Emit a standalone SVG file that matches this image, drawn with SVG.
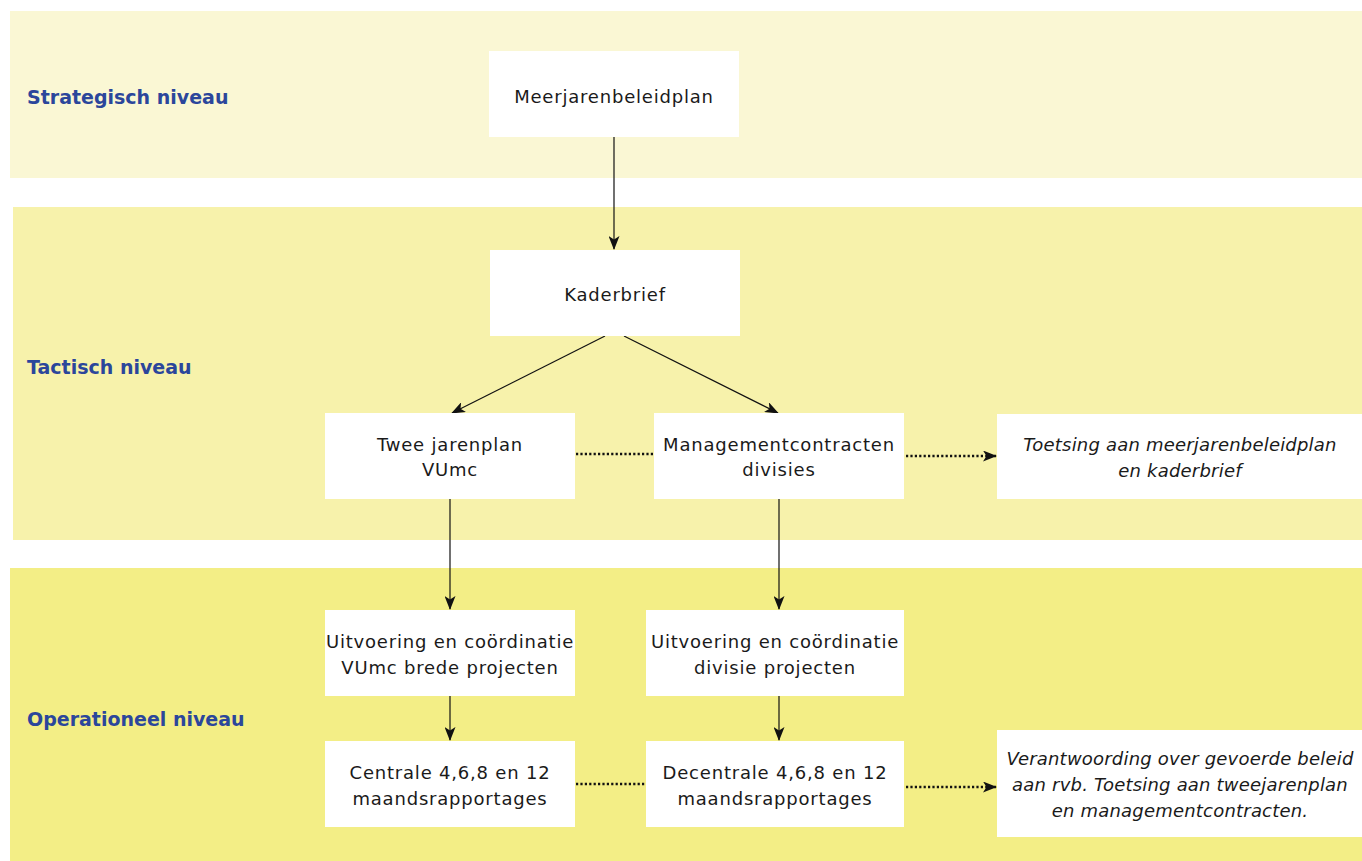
<svg xmlns="http://www.w3.org/2000/svg" width="1362" height="861" viewBox="0 0 1362 861">
<defs>
<style>
.band1{fill:#faf7d4}
.band2{fill:#f7f2ab}
.band3{fill:#f3ee86}
.box{fill:#ffffff}
.lvl{font-family:"DejaVu Sans","Liberation Sans",sans-serif;font-size:19px;font-weight:bold;fill:#2b469b}
.t{font-family:"DejaVu Sans","Liberation Sans",sans-serif;font-size:18px;fill:#1a1a1a;text-anchor:middle;letter-spacing:0.8px}
.it{font-style:italic;letter-spacing:0.2px}
.ln{stroke:#111;stroke-width:1.2;fill:none}
.dot{stroke:#111;stroke-width:2.6;fill:none;stroke-dasharray:2.2 2.2}
</style>
<marker id="ah" viewBox="0 0 14 11" refX="13" refY="5.5" markerWidth="14" markerHeight="11" markerUnits="userSpaceOnUse" orient="auto">
<path d="M0,0 L14,5.5 L0,11 L3.5,5.5 Z" fill="#111"/>
</marker>
</defs>

<g id="bands">
<rect class="band1" x="10" y="11" width="1352" height="167"/>
<rect class="band2" x="13" y="207" width="1349" height="333"/>
<rect class="band3" x="10" y="568" width="1352" height="293"/>
<text class="lvl" x="27" y="104">Strategisch niveau</text>
<text class="lvl" x="27" y="374">Tactisch niveau</text>
<text class="lvl" x="27" y="726">Operationeel niveau</text>
</g>

<g id="connectors">
<line class="ln" x1="614" y1="137" x2="614" y2="249" marker-end="url(#ah)"/>
<line class="ln" x1="605" y1="336" x2="452" y2="413" marker-end="url(#ah)"/>
<line class="ln" x1="624" y1="336" x2="778" y2="413" marker-end="url(#ah)"/>
<line class="dot" x1="576" y1="454" x2="654" y2="454"/>
<line class="dot" x1="906" y1="456" x2="996" y2="456" marker-end="url(#ah)"/>
<line class="ln" x1="450" y1="499" x2="450" y2="609" marker-end="url(#ah)"/>
<line class="ln" x1="779" y1="499" x2="779" y2="609" marker-end="url(#ah)"/>
<line class="ln" x1="450" y1="696" x2="450" y2="740" marker-end="url(#ah)"/>
<line class="ln" x1="779" y1="696" x2="779" y2="740" marker-end="url(#ah)"/>
<line class="dot" x1="576" y1="784" x2="646" y2="784"/>
<line class="dot" x1="906" y1="787" x2="996" y2="787" marker-end="url(#ah)"/>
</g>

<g id="meerjarenbeleidplan">
<rect class="box" x="489" y="51" width="250" height="86"/>
<text class="t" x="614" y="103">Meerjarenbeleidplan</text>
</g>

<g id="kaderbrief">
<rect class="box" x="490" y="250" width="250" height="86"/>
<text class="t" x="615" y="301">Kaderbrief</text>
</g>

<g id="tweejarenplan">
<rect class="box" x="325" y="413" width="250" height="86"/>
<text class="t" x="450" y="451">Twee jarenplan</text>
<text class="t" x="450" y="476">VUmc</text>
</g>

<g id="managementcontracten">
<rect class="box" x="654" y="413" width="250" height="86"/>
<text class="t" x="779" y="451">Managementcontracten</text>
<text class="t" x="779" y="476">divisies</text>
</g>

<g id="toetsing1">
<rect class="box" x="997" y="414" width="365" height="85"/>
<text class="t it" x="1180" y="451">Toetsing aan meerjarenbeleidplan</text>
<text class="t it" x="1180" y="477">en kaderbrief</text>
</g>

<g id="uitvoering-vumc">
<rect class="box" x="325" y="610" width="250" height="86"/>
<text class="t" x="450" y="648">Uitvoering en coördinatie</text>
<text class="t" x="450" y="674">VUmc brede projecten</text>
</g>

<g id="uitvoering-divisie">
<rect class="box" x="646" y="610" width="258" height="86"/>
<text class="t" x="775" y="648">Uitvoering en coördinatie</text>
<text class="t" x="775" y="674">divisie projecten</text>
</g>

<g id="centrale">
<rect class="box" x="325" y="741" width="250" height="86"/>
<text class="t" x="450" y="779">Centrale 4,6,8 en 12</text>
<text class="t" x="450" y="805">maandsrapportages</text>
</g>

<g id="decentrale">
<rect class="box" x="646" y="741" width="258" height="86"/>
<text class="t" x="775" y="779">Decentrale 4,6,8 en 12</text>
<text class="t" x="775" y="805">maandsrapportages</text>
</g>

<g id="verantwoording">
<rect class="box" x="997" y="730" width="365" height="107"/>
<text class="t it" x="1180" y="765">Verantwoording over gevoerde beleid</text>
<text class="t it" x="1180" y="791">aan rvb. Toetsing aan tweejarenplan</text>
<text class="t it" x="1180" y="817">en managementcontracten.</text>
</g>
</svg>
